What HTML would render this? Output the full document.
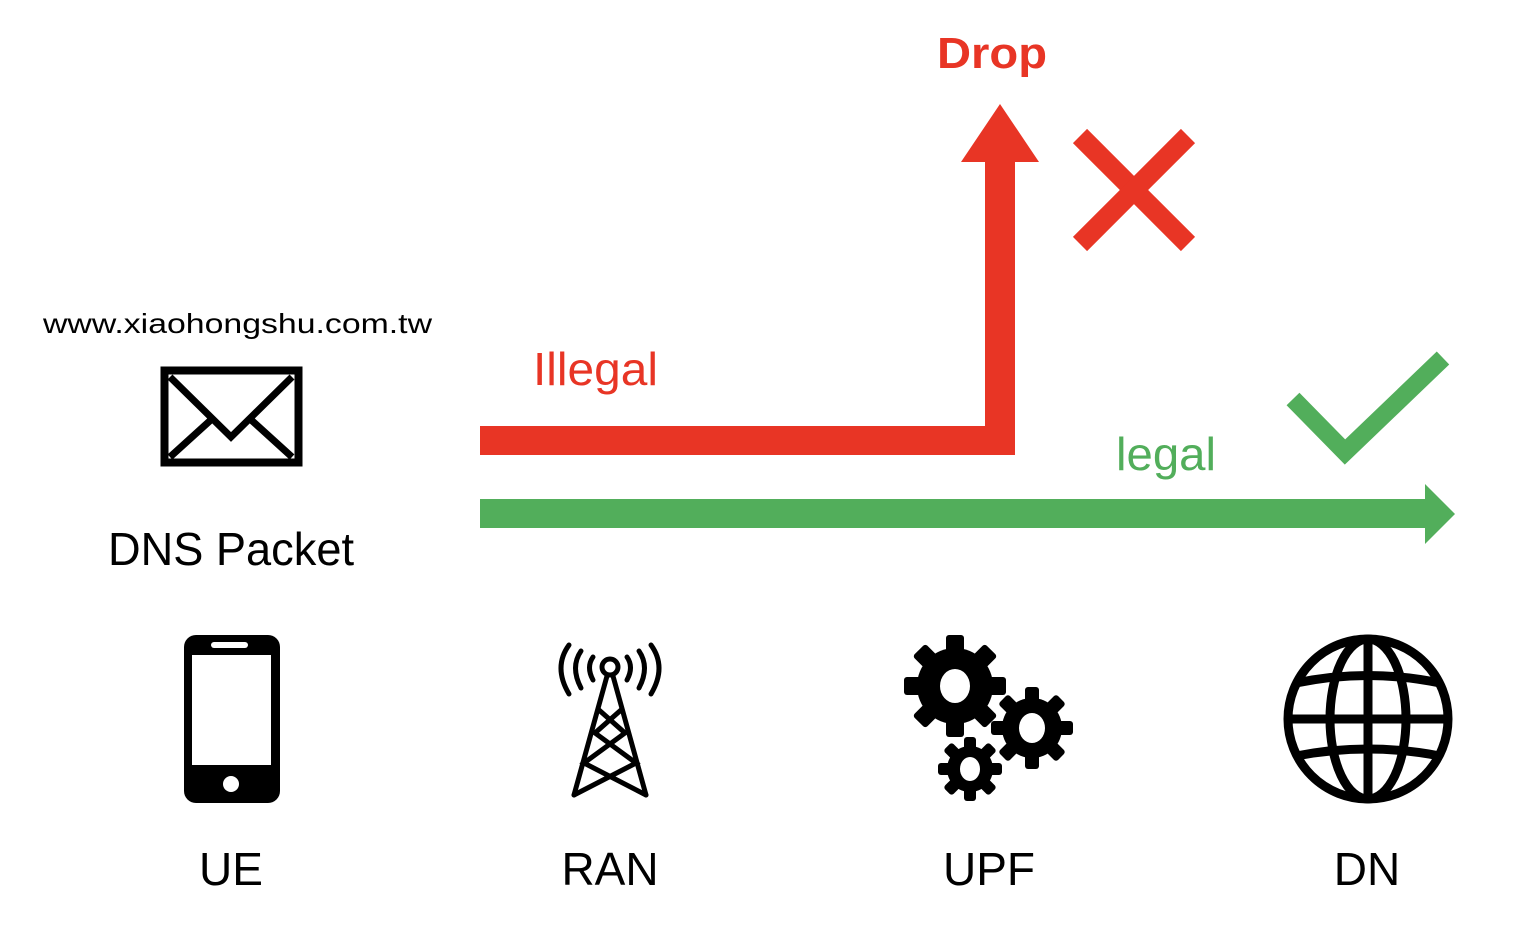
<!DOCTYPE html>
<html><head><meta charset="utf-8"><style>html,body{margin:0;padding:0;background:#fff}svg{display:block}</style></head>
<body>
<svg width="1532" height="928" viewBox="0 0 1532 928" xmlns="http://www.w3.org/2000/svg" font-family="'Liberation Sans', sans-serif">
<!-- red path -->
<rect x="480" y="426" width="535" height="29" fill="#e83525"/>
<rect x="985" y="160" width="30" height="295" fill="#e83525"/>
<polygon points="1000,104 1039,162 961,162" fill="#e83525"/>
<text x="992" y="68" font-size="44" font-weight="bold" fill="#e83525" text-anchor="middle" textLength="110" lengthAdjust="spacingAndGlyphs">Drop</text>
<line x1="1080" y1="136" x2="1188" y2="244" stroke="#e83525" stroke-width="20"/>
<line x1="1188" y1="136" x2="1080" y2="244" stroke="#e83525" stroke-width="20"/>
<text x="533" y="385" font-size="46" fill="#e83525" textLength="125" lengthAdjust="spacingAndGlyphs">Illegal</text>
<!-- green -->
<rect x="480" y="499" width="947" height="29" fill="#52ae5b"/>
<polygon points="1455,514 1425,484 1425,544" fill="#52ae5b"/>
<text x="1116" y="470" font-size="46" fill="#52ae5b" textLength="100" lengthAdjust="spacingAndGlyphs">legal</text>
<polyline points="1293,399 1345,452 1443,358" fill="none" stroke="#52ae5b" stroke-width="18"/>
<!-- left -->
<text x="43" y="333" font-size="28" fill="#000" textLength="389" lengthAdjust="spacingAndGlyphs">www.xiaohongshu.com.tw</text>
<rect x="164.5" y="370.5" width="134" height="92" fill="none" stroke="#000" stroke-width="8"/>
<polyline points="170,377 231,437 292,377" fill="none" stroke="#000" stroke-width="7"/>
<line x1="170" y1="457" x2="213" y2="418" stroke="#000" stroke-width="7"/>
<line x1="292" y1="457" x2="249" y2="418" stroke="#000" stroke-width="7"/>
<text x="231" y="565" font-size="46" fill="#000" text-anchor="middle" textLength="246" lengthAdjust="spacingAndGlyphs">DNS Packet</text>
<!-- phone -->
<rect x="184" y="635" width="96" height="168" rx="12" fill="#000"/>
<rect x="192" y="655" width="79" height="110" fill="#fff"/>
<rect x="211" y="642" width="37" height="6" rx="3" fill="#fff"/>
<circle cx="231" cy="784" r="8" fill="#fff"/>
<!-- tower -->
<g stroke="#000" stroke-width="5" fill="none" stroke-linecap="round">
<circle cx="610" cy="667" r="8"/>
<line x1="607" y1="676" x2="574" y2="795"/>
<line x1="613" y1="676" x2="646" y2="795"/>
<polyline points="599,710 625,733 584,763 646,795"/>
<polyline points="621,710 595,733 636,763 574,795"/>
<path d="M593,657 Q586,667 593,680"/><path d="M627,657 Q634,667 627,680"/>
<path d="M581,651 Q570,667 581,688"/><path d="M639,651 Q650,667 639,688"/>
<path d="M569,645 Q553,667 569,694"/><path d="M651,645 Q667,667 651,694"/>
</g>
<!-- gears -->
<g fill="#000">
<g transform="translate(955,686)">
<circle r="38"/>
<g id="t1"><rect x="-9" y="-51" width="18" height="102" rx="3"/></g>
<use href="#t1" transform="rotate(45)"/><use href="#t1" transform="rotate(90)"/><use href="#t1" transform="rotate(135)"/>
<ellipse rx="15" ry="17" fill="#fff"/>
</g>
<g transform="translate(1032,728)">
<circle r="30"/>
<g id="t2"><rect x="-7" y="-41" width="14" height="82" rx="3"/></g>
<use href="#t2" transform="rotate(45)"/><use href="#t2" transform="rotate(90)"/><use href="#t2" transform="rotate(135)"/>
<ellipse rx="13" ry="15" fill="#fff"/>
</g>
<g transform="translate(970,769)">
<circle r="23"/>
<g id="t3"><rect x="-6" y="-32" width="12" height="64" rx="3"/></g>
<use href="#t3" transform="rotate(45)"/><use href="#t3" transform="rotate(90)"/><use href="#t3" transform="rotate(135)"/>
<ellipse rx="10" ry="12" fill="#fff"/>
</g>
</g>
<!-- globe -->
<g stroke="#000" stroke-width="9" fill="none">
<ellipse cx="1368" cy="719" rx="80" ry="80"/>
<ellipse cx="1368" cy="719" rx="38" ry="80"/>
<line x1="1368" y1="639" x2="1368" y2="799"/>
<line x1="1288" y1="719" x2="1448" y2="719"/>
<path d="M1296,683 Q1368,668 1440,683"/>
<path d="M1296,756 Q1368,742 1440,756"/>
</g>
<!-- labels -->
<g font-size="46" fill="#000" text-anchor="middle">
<text x="231" y="885">UE</text>
<text x="610" y="885">RAN</text>
<text x="989" y="885">UPF</text>
<text x="1367" y="885">DN</text>
</g>
</svg>
</body></html>
